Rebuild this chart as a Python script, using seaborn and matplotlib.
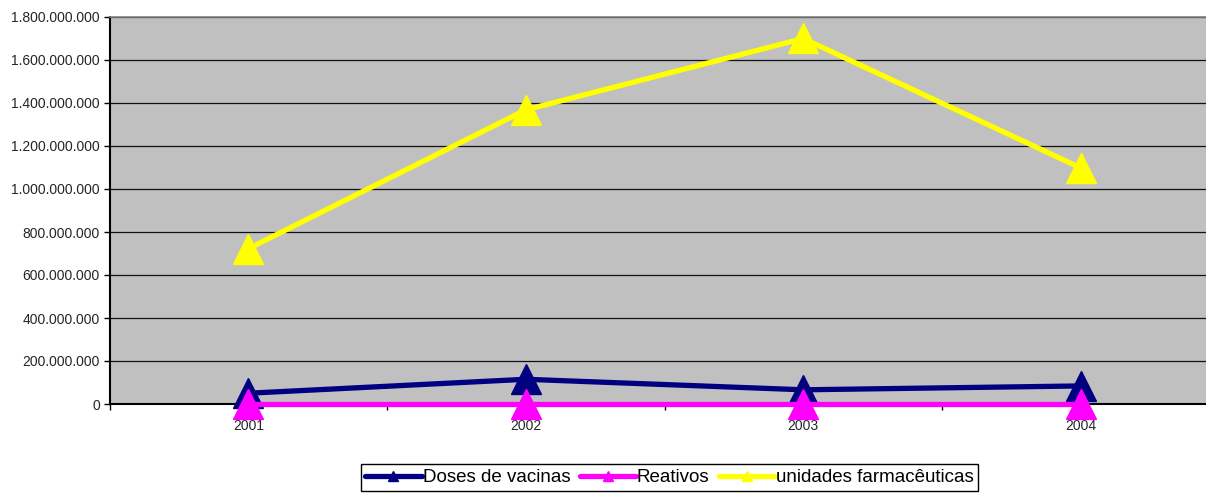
import numpy as np
import pandas as pd
import matplotlib
matplotlib.use("Agg")
import matplotlib.pyplot as plt
import matplotlib.ticker as mticker
import seaborn as sns

# Data
anos = ["2001", "2002", "2003", "2004"]
doses_vacinas = [50_000_000, 115_000_000, 66_000_000, 84_000_000]
reativos = [1_500_000, 1_500_000, 1_500_000, 1_500_000]
unidades_farm = [722_000_000, 1_368_000_000, 1_700_000_000, 1_098_000_000]

series = ["Doses de vacinas", "Reativos", "unidades farmacêuticas"]
cores = {"Doses de vacinas": "#000080", "Reativos": "#FF00FF",
         "unidades farmacêuticas": "#FFFF00"}

df = pd.DataFrame({
    "ano": anos * 3,
    "valor": doses_vacinas + reativos + unidades_farm,
    "serie": [s for s in series for _ in anos],
})

sns.set_style("white")
plt.rcParams["font.family"] = ["Liberation Sans", "DejaVu Sans"]

fig = plt.figure(figsize=(12.06, 4.94), dpi=100)
# plot area runs past the right edge of the image, like the original
ax = fig.add_axes([109.5 / 1206, 1 - 404 / 494, 1110 / 1206, 387 / 494])
ax.set_facecolor("#C0C0C0")

sns.lineplot(data=df, x="ano", y="valor", hue="serie", hue_order=series,
             palette=cores, style="serie", markers={s: "^" for s in series},
             dashes=False, markersize=21, linewidth=3.8,
             sort=False, ax=ax, legend=True)

for ln in ax.lines:
    ln.set_markeredgecolor(ln.get_color())
    ln.set_markeredgewidth(1)
    ln.set_clip_on(False)
    ln.set_zorder(3)

ax.set_xlim(-0.5, 3.5)
ax.set_ylim(0, 1_800_000_000)
ax.yaxis.set_major_locator(mticker.MultipleLocator(200_000_000))
ax.yaxis.set_major_formatter(mticker.FuncFormatter(
    lambda v, p: f"{int(round(v)):,}".replace(",", ".")))
ax.grid(axis="y", color="#111111", linewidth=0.9)
ax.set_axisbelow(True)

ax.set_xlabel("")
ax.set_ylabel("")
ax.tick_params(axis="y", which="major", direction="out", length=4,
               width=1, color="black", labelsize=10, pad=3, left=True)
ax.tick_params(axis="x", which="major", length=0, labelsize=10, pad=11)
ax.xaxis.set_minor_locator(mticker.FixedLocator([-0.5, 0.5, 1.5, 2.5, 3.5]))
ax.tick_params(axis="x", which="minor", direction="out", length=4,
               width=1, color="black", bottom=True)

for side in ["top", "right"]:
    ax.spines[side].set_color("#808080")
    ax.spines[side].set_linewidth(1.2)
for side in ["left", "bottom"]:
    ax.spines[side].set_color("black")
    ax.spines[side].set_linewidth(1.5)

handles, labels = ax.get_legend_handles_labels()
ax.get_legend().remove()
for h in handles:
    h.set_markeredgecolor(h.get_color())
leg = fig.legend(handles, labels, loc="center", ncol=3,
                 bbox_to_anchor=(669.5 / 1206, 1 - 477.5 / 494),
                 fontsize=13.5, frameon=True, fancybox=False, markerscale=0.36,
                 handlelength=3.0, handletextpad=0.05, columnspacing=0.5,
                 borderpad=0.25, borderaxespad=0, edgecolor="black",
                 framealpha=1)
leg.get_frame().set_linewidth(1)
for t in leg.get_texts():
    t.set_color("black")

fig.savefig("out.png", dpi=100, facecolor="white")
